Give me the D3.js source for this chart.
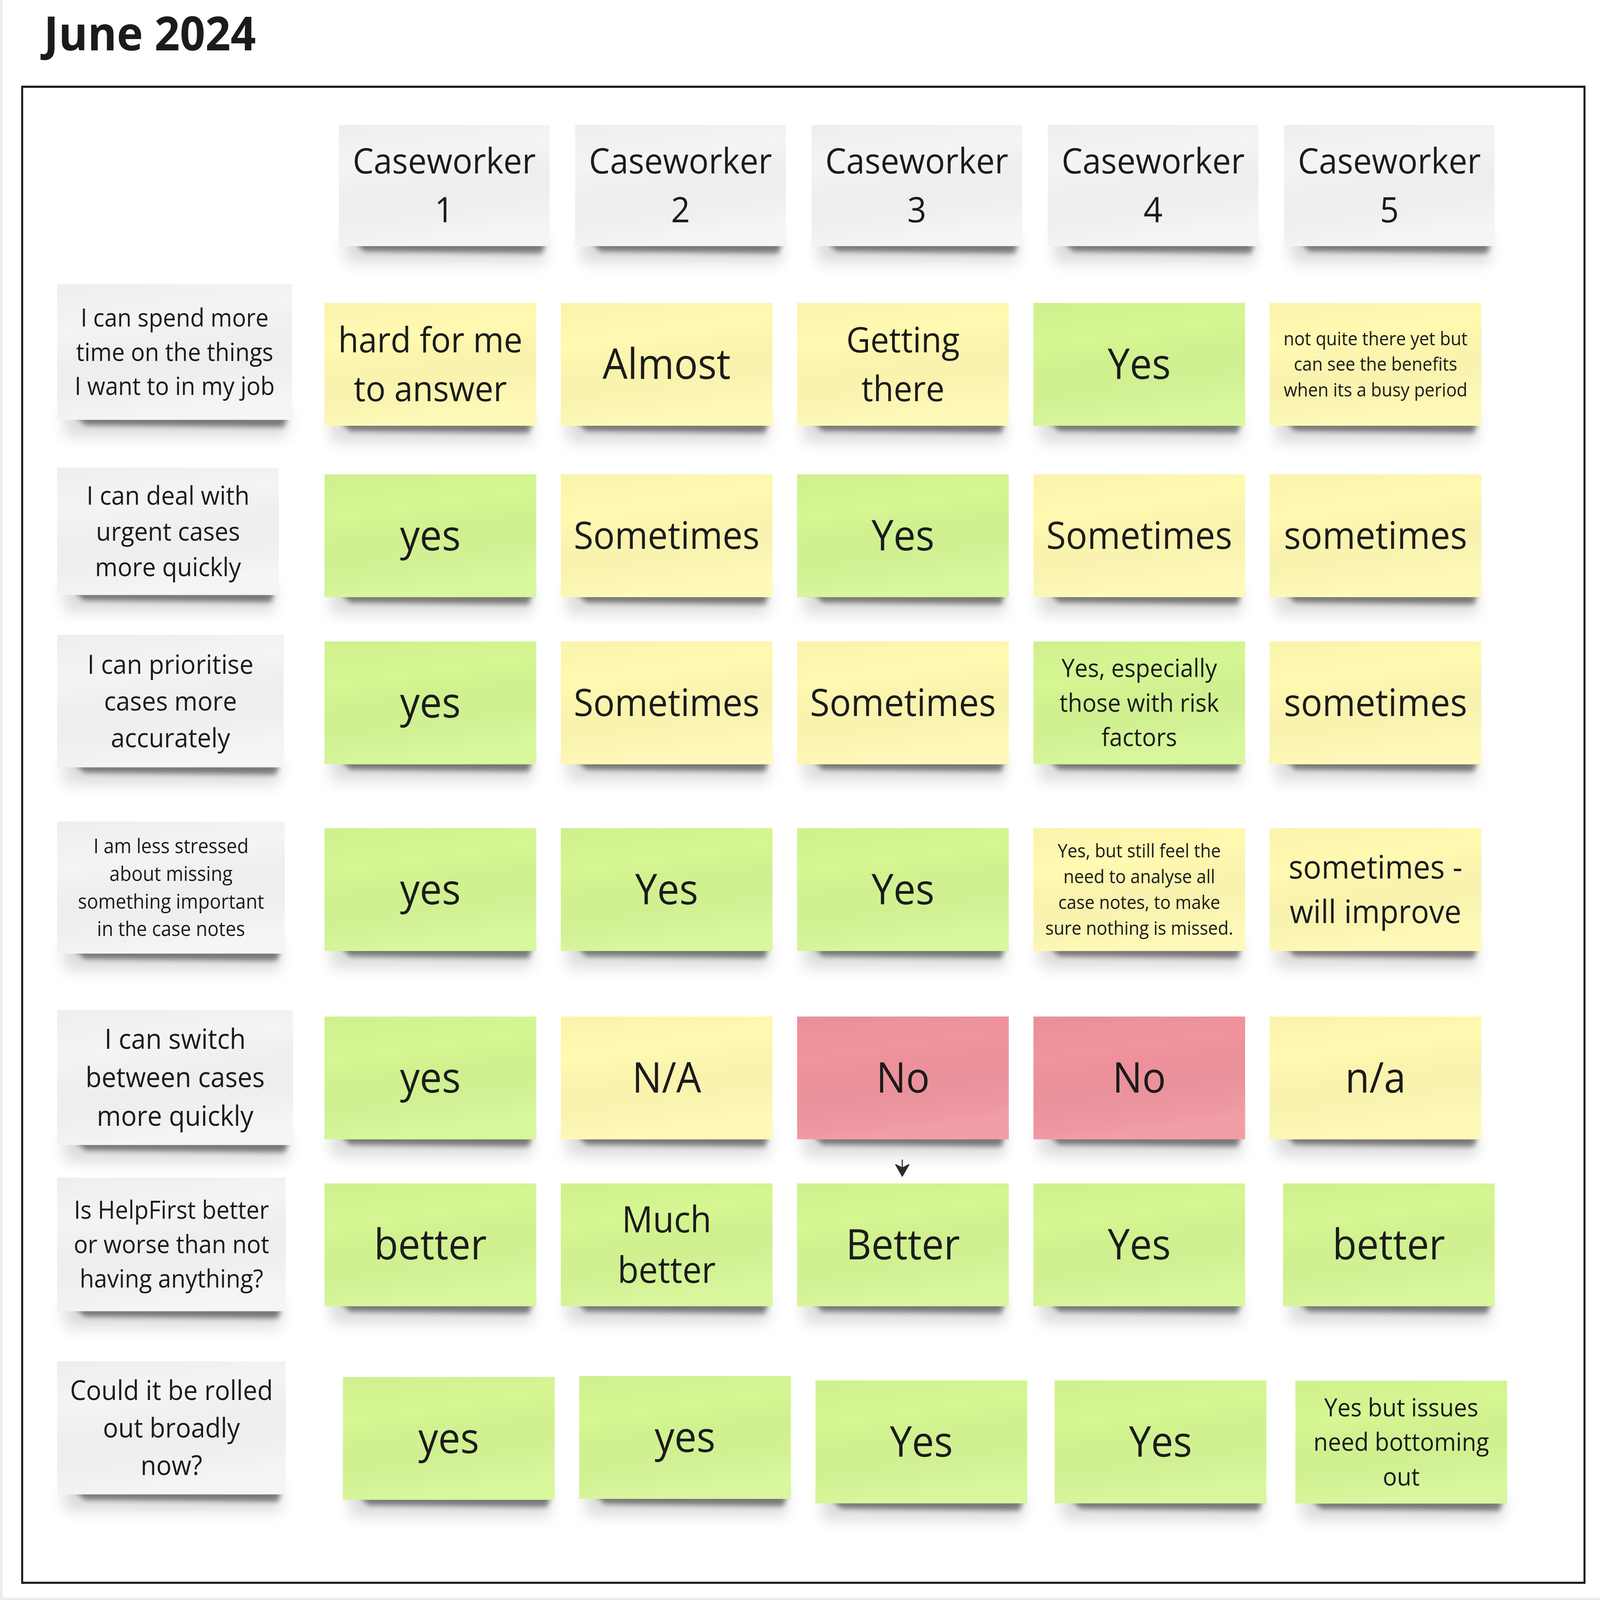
<!DOCTYPE html>
<html><head><meta charset="utf-8">
<script src="https://cdn.jsdelivr.net/npm/d3@7"></script>
<style>html,body{margin:0;padding:0;background:#fff;width:100%;height:100%;overflow:hidden}svg{display:block;width:100vw;height:100vh}</style>
</head><body>
<script>
// ---------- DATA ----------
const title = "June 2024";
const caseworkers = ["Caseworker\n1","Caseworker\n2","Caseworker\n3","Caseworker\n4","Caseworker\n5"];
const questions = [
  "I can spend more\ntime on the things\nI want to in my job",
  "I can deal with\nurgent cases\nmore quickly",
  "I can prioritise\ncases more\naccurately",
  "I am less stressed\nabout missing\nsomething important\nin the case notes",
  "I can switch\nbetween cases\nmore quickly",
  "Is HelpFirst better\nor worse than not\nhaving anything?",
  "Could it be rolled\nout broadly\nnow?"
];
const answers = [
  ["hard for me\nto answer","Almost","Getting\nthere","Yes","not quite there yet but\ncan see the benefits\nwhen its a busy period"],
  ["yes","Sometimes","Yes","Sometimes","sometimes"],
  ["yes","Sometimes","Sometimes","Yes, especially\nthose with risk\nfactors","sometimes"],
  ["yes","Yes","Yes","Yes, but still feel the\nneed to analyse all\ncase notes, to make\nsure nothing is missed.","sometimes -\nwill improve"],
  ["yes","N/A","No","No","n/a"],
  ["better","Much\nbetter","Better","Yes","better"],
  ["yes","yes","Yes","Yes","Yes but issues\nneed bottoming\nout"]
];
const sentiment = [
  ["mixed","mixed","mixed","positive","mixed"],
  ["positive","mixed","positive","mixed","mixed"],
  ["positive","mixed","mixed","positive","mixed"],
  ["positive","positive","positive","mixed","mixed"],
  ["positive","mixed","negative","negative","mixed"],
  ["positive","positive","positive","positive","positive"],
  ["positive","positive","positive","positive","positive"]
];

// ---------- LAYOUT / STYLE ----------
const W = 7218, H = 6787;
const rowTops   = [1285, 2012, 2721, 3513, 4312, 5020, 5841];
const labelTops = [1206, 1984, 2693, 3485, 4284, 4995, 5775];
const labelW    = [1060, 1000, 1022, 1027, 1064, 1031, 1031];
const labelH    = [575, 540, 562, 560, 573, 567, 564];
const labelFont = [105, 110, 113, 85, 118, 106, 115];
const cellFont = [
  [150,178,150,178,79],
  [178,161,178,161,161],
  [178,161,161,106,161],
  [178,178,178,79,137],
  [178,178,178,178,178],
  [178,155,178,178,178],
  [178,178,178,178,106]
];
// small hand-placement nudges of the sticky notes (dx, dy)
const nudges = {"5-4":[60,0],"6-0":[83,0],"6-1":[83,-4],"6-2":[83,15],"6-3":[96,15],"6-4":[116,16]};
const cellW = 955, cellH = 521, headW = 950, headH = 514;
const LH = 1.38;
const textColor = "#1b1b1b";
const fontFamily = "'Open Sans', 'Noto Sans', sans-serif";

const color = d3.scaleOrdinal().domain(["positive","mixed","negative","header"])
  .range(["#d5f692","#fff9b1","#f0939d","#f3f4f6"]);

const x = d3.scaleBand().domain(d3.range(caseworkers.length)).range([1464, 6683]).paddingInner(0.104);
const yRow = d3.scaleOrdinal().domain(d3.range(questions.length)).range(rowTops);
const yLabel = d3.scaleOrdinal().domain(d3.range(questions.length)).range(labelTops);

const svg = d3.select("body").append("svg")
  .attr("viewBox", `0 0 ${W} ${H}`).attr("preserveAspectRatio", "none");

const defs = svg.append("defs");
defs.append("filter").attr("id","blurA").attr("x","-20%").attr("y","-200%").attr("width","140%").attr("height","500%")
  .append("feGaussianBlur").attr("stdDeviation", 11);
defs.append("filter").attr("id","blurB").attr("x","-20%").attr("y","-200%").attr("width","140%").attr("height","500%")
  .append("feGaussianBlur").attr("stdDeviation", 32);
const grad = defs.append("linearGradient").attr("id","sheen").attr("x1",0).attr("y1",0).attr("x2",0.25).attr("y2",1);
grad.append("stop").attr("offset","0").attr("stop-color","#000").attr("stop-opacity",0.025);
grad.append("stop").attr("offset","0.35").attr("stop-color","#000").attr("stop-opacity",0.0);
grad.append("stop").attr("offset","1").attr("stop-color","#fff").attr("stop-opacity",0.1);

// page edges
svg.append("rect").attr("x",0).attr("y",0).attr("width",12).attr("height",H).attr("fill","#ececec");
svg.append("rect").attr("x",0).attr("y",H-10).attr("width",W).attr("height",10).attr("fill","#ececec");

// title
svg.append("text").attr("x", 198).attr("y", 214)
  .attr("font-family", fontFamily).attr("font-weight", 700).attr("font-size", 200)
  .attr("fill", textColor).text(title);

// frame
svg.append("rect").attr("x", 100).attr("y", 368).attr("width", 7048).attr("height", 6346)
  .attr("fill", "none").attr("stroke", "#1b1b1b").attr("stroke-width", 9);

// build notes
const notes = [];
caseworkers.forEach((c, j) => notes.push({x: x(j) + 65, y: 530, w: headW, h: headH, text: c, fs: 150, fill: color("header")}));
questions.forEach((q, i) => notes.push({x: 258, y: yLabel(i), w: labelW[i], h: labelH[i], text: q, fs: labelFont[i], fill: color("header")}));
answers.forEach((row, i) => row.forEach((a, j) => {
  const n = nudges[`${i}-${j}`] || [0,0];
  notes.push({x: x(j) + n[0], y: yRow(i) + n[1], w: cellW, h: cellH, text: a, fs: cellFont[i][j], fill: color(sentiment[i][j])});
}));

const g = svg.selectAll("g.note").data(notes).join("g").attr("class","note");

// soft shadow
g.append("rect")
  .attr("x", d => d.x + d.w*0.03).attr("y", d => d.y + d.h - 50)
  .attr("width", d => d.w*0.95).attr("height", 120)
  .attr("fill", "#000").attr("opacity", 0.14).attr("filter","url(#blurB)");
// crisp contact shadow
g.append("path")
  .attr("d", d => {
    const b = d.y + d.h;
    return `M${d.x + d.w*0.07},${b-22} L${d.x + d.w*0.985},${b-22} L${d.x + d.w*0.965},${b+30} L${d.x + d.w*0.12},${b+22} Z`;
  })
  .attr("fill", "#000").attr("opacity", 0.45).attr("filter","url(#blurA)");
// the sticky
g.append("rect").attr("x", d => d.x).attr("y", d => d.y).attr("width", d => d.w).attr("height", d => d.h)
  .attr("fill", d => d.fill);
g.append("rect").attr("x", d => d.x).attr("y", d => d.y).attr("width", d => d.w).attr("height", d => d.h)
  .attr("fill", "url(#sheen)");
// text
g.append("text")
  .attr("font-family", fontFamily).attr("font-size", d => d.fs).attr("fill", textColor)
  .attr("text-anchor", "middle")
  .each(function(d) {
    const lines = d.text.split("\n");
    const cx = d.x + d.w/2, cy = d.y + d.h/2;
    const lh = d.fs * LH;
    const t = d3.select(this);
    lines.forEach((ln, k) => {
      t.append("tspan").attr("x", cx)
        .attr("y", cy + (k - (lines.length-1)/2) * lh + d.fs*0.35)
        .text(ln);
    });
  });

// connector arrow (row 5 -> row 6, caseworker 3)
const ax = x(2) + cellW/2 - 3;
const arrowTop = yRow(4) + cellH + 86, arrowTip = yRow(5) - 30;
svg.append("line").attr("x1", ax).attr("x2", ax).attr("y1", arrowTop).attr("y2", arrowTip - 20)
  .attr("stroke", "#2b2b2b").attr("stroke-width", 5);
svg.append("path")
  .attr("d", `M${ax},${arrowTip} L${ax-30},${arrowTip-50} L${ax},${arrowTip-36} L${ax+30},${arrowTip-50} Z`)
  .attr("fill", "#2b2b2b").attr("stroke","#2b2b2b").attr("stroke-width",4).attr("stroke-linejoin","round");
</script>
</body></html>
